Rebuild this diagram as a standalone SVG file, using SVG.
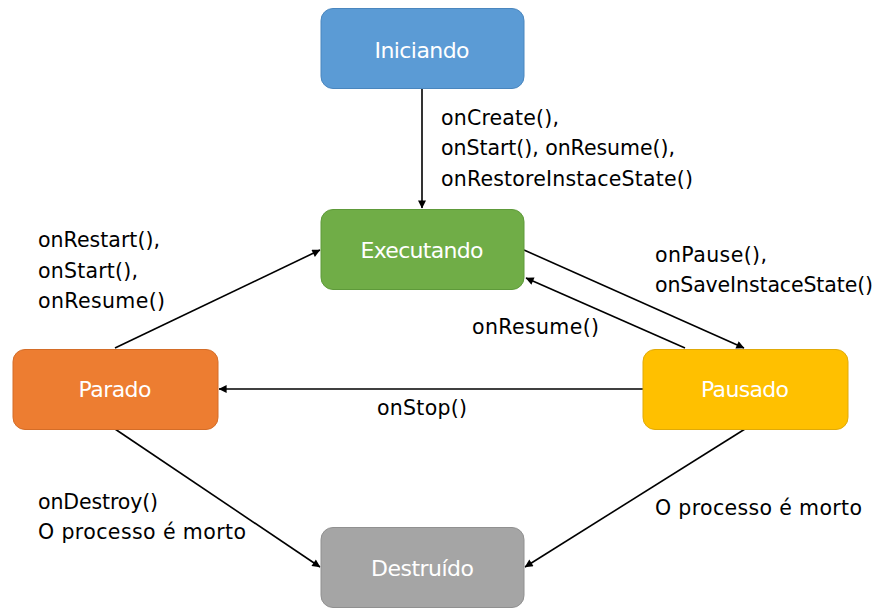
<svg xmlns="http://www.w3.org/2000/svg" width="879" height="610" viewBox="0 0 879 610">
  <style>
    .node rect { stroke-width: 1; }
    .node text { font-family: "DejaVu Sans", "Open Sans", sans-serif; font-size: 22px; fill: #ffffff; text-anchor: middle; }
    .lbl { font-family: "DejaVu Sans", "Open Sans", sans-serif; font-size: 20.5px; fill: #000000; }
    .edge { stroke: #000000; stroke-width: 1.6; fill: none; marker-end: url(#arrow); }
  </style>
  <defs>
    <marker id="arrow" viewBox="0 0 10 10" refX="9.5" refY="5" markerWidth="9" markerHeight="8" markerUnits="userSpaceOnUse" orient="auto">
      <path d="M0,0 L10,5 L0,10 z" fill="#000000"/>
    </marker>
  </defs>
  <rect x="0" y="0" width="879" height="610" fill="#ffffff"/>

  <!-- transitions -->
  <g id="connectors">
    <line class="edge" x1="422" y1="88" x2="422" y2="208"/>
    <line class="edge" x1="115" y1="348" x2="320" y2="250"/>
    <line class="edge" x1="524" y1="250" x2="744" y2="348"/>
    <line class="edge" x1="685" y1="348" x2="526" y2="278"/>
    <line class="edge" x1="643" y1="389" x2="219" y2="389"/>
    <line class="edge" x1="115" y1="429" x2="320" y2="567"/>
    <line class="edge" x1="745" y1="429" x2="525" y2="567"/>
  </g>

  <!-- transition labels -->
  <g id="labels">
    <text class="lbl" x="441" y="125" textLength="118" lengthAdjust="spacing">onCreate(),</text>
    <text class="lbl" x="441" y="155" textLength="234" lengthAdjust="spacing">onStart(), onResume(),</text>
    <text class="lbl" x="441" y="186" textLength="252" lengthAdjust="spacing">onRestoreInstaceState()</text>
    <text class="lbl" x="38" y="247" textLength="122" lengthAdjust="spacing">onRestart(),</text>
    <text class="lbl" x="38" y="278" textLength="100" lengthAdjust="spacing">onStart(),</text>
    <text class="lbl" x="38" y="308" textLength="127" lengthAdjust="spacing">onResume()</text>
    <text class="lbl" x="655" y="262" textLength="112" lengthAdjust="spacing">onPause(),</text>
    <text class="lbl" x="655" y="292" textLength="218" lengthAdjust="spacing">onSaveInstaceState()</text>
    <text class="lbl" x="472" y="334" textLength="127" lengthAdjust="spacing">onResume()</text>
    <text class="lbl" x="377" y="415" textLength="90" lengthAdjust="spacing">onStop()</text>
    <text class="lbl" x="38" y="509" textLength="120" lengthAdjust="spacing">onDestroy()</text>
    <text class="lbl" x="38" y="539" textLength="208" lengthAdjust="spacing">O processo é morto</text>
    <text class="lbl" x="655" y="515" textLength="207" lengthAdjust="spacing">O processo é morto</text>
  </g>

  <!-- states -->
  <g id="iniciando" class="node">
    <rect x="321" y="8.5" width="203" height="80" rx="12" fill="#5B9BD5" stroke="#4A86BE"/>
    <text x="422" y="58" textLength="95" lengthAdjust="spacing">Iniciando</text>
  </g>
  <g id="executando" class="node">
    <rect x="321" y="209.5" width="203" height="80" rx="12" fill="#70AD47" stroke="#5E9A3A"/>
    <text x="422" y="258" textLength="123" lengthAdjust="spacing">Executando</text>
  </g>
  <g id="parado" class="node">
    <rect x="13" y="349.5" width="205" height="80" rx="12" fill="#ED7D31" stroke="#D46D28"/>
    <text x="115" y="397" textLength="73" lengthAdjust="spacing">Parado</text>
  </g>
  <g id="pausado" class="node">
    <rect x="643" y="349.5" width="205" height="80" rx="12" fill="#FFC000" stroke="#E0AA08"/>
    <text x="745" y="397" textLength="88" lengthAdjust="spacing">Pausado</text>
  </g>
  <g id="destruido" class="node">
    <rect x="321" y="527.5" width="203" height="80" rx="12" fill="#A5A5A5" stroke="#909090"/>
    <text x="422.5" y="576" textLength="103" lengthAdjust="spacing">Destruído</text>
  </g>
</svg>
